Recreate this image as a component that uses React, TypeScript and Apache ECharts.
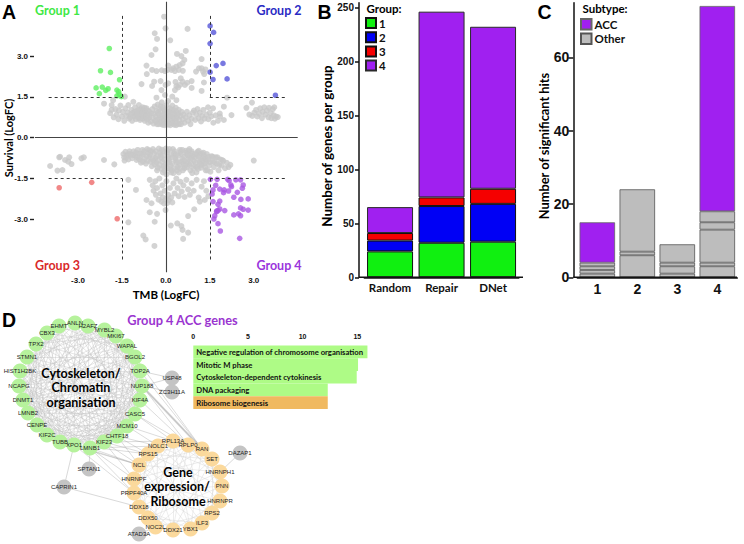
import React, { useEffect, useRef } from "react";
import * as echarts from "echarts";

const ARIAL = '"Liberation Sans", Arial, sans-serif';
const LATO = 'Lato, "Open Sans", sans-serif';

// Panel A
const abTicks = [-3, -1.5, 0, 1.5, 3];
const group1 = [[-1.93,3.28],[-2.23,2.46],[-1.89,2.4],[-1.58,2.13],[-2.38,1.83],[-2.17,1.86],[-2.05,1.74],[-1.97,1.8],[-1.67,1.75],[-2.27,1.62],[-1.61,1.69],[-1.67,1.54],[-1.59,1.59],[-1.52,1.51]];
const group2 = [[1.51,4.11],[1.63,3.87],[1.51,3.46],[1.72,2.65],[1.95,2.73],[1.51,2.41],[1.61,2.14],[2.09,2.16],[3.74,1.56]];
const group3 = [[-3.64,-1.84],[-2.53,-1.64],[-1.66,-2.98]];
const group4 = [[1.52,-1.53],[1.75,-1.53],[2.11,-1.53],[2.16,-1.58],[2.39,-1.55],[2.55,-1.55],[1.7,-1.75],[1.61,-1.92],[1.84,-1.89],[1.99,-1.92],[2.14,-1.96],[2.24,-1.8],[2.22,-1.74],[1.97,-2.02],[1.58,-2.07],[2.64,-1.74],[2.61,-1.86],[2.44,-2.01],[2.32,-2.19],[2.56,-2.27],[2.81,-2.25],[1.61,-2.35],[1.84,-2.33],[1.78,-2.45],[1.84,-2.62],[1.74,-2.69],[1.78,-2.68],[2.01,-2.68],[2.55,-2.58],[2.64,-2.63],[2.81,-2.66],[2.32,-2.84],[2.48,-2.8],[2.55,-2.87],[1.67,-2.87],[1.64,-2.99],[1.78,-3.16],[1.86,-3.43],[2.52,-3.7],[1.73,-2.72]];
const graySparse = [[-0.06,4.45],[-0.38,3.84],[-0.01,4.02],[-0.3,3.63],[0.15,3.58],[0.74,4],[-0.35,3.25],[-0.49,3.04],[0.38,3.08],[0.68,3.19],[0.53,3],[0.63,2.86],[0.57,2.73],[0.47,2.67],[0.36,2.61],[0.25,2.55],[0.08,2.65],[0.06,2.49],[0.19,2.49],[-0.66,2.65],[-0.65,2.34],[-0.47,2.49],[-0.32,2.45],[-0.14,2.48],[-0.03,2.45],[0.31,2.45],[0.44,2.49],[0.58,2.46],[1.22,2.89],[1.03,2.43],[1.13,2.55],[1.22,2.55],[1.35,2.51],[1.27,2.43],[1.31,2.34],[-0.83,1.97],[-0.47,1.9],[-0.4,2.06],[-0.18,2.08],[-0.01,1.94],[0.08,2],[0.33,2.05],[0.36,1.9],[0.51,2.18],[0.57,2.06],[0.48,1.94],[0.42,1.85],[0.65,1.94],[0.73,2.02],[0.88,2.08],[0.88,1.83],[1.22,1.72],[1.3,2.03],[0.31,1.75],[-0.15,1.75],[-0.32,1.47],[-0.03,1.57],[0.22,1.51],[0.36,1.38],[-2.11,1.25],[-1.8,1.38],[-1.85,1.2],[-1.4,1.51],[-1.11,1.32],[2.09,1.47],[1.98,1.14],[1.84,0.89],[2.94,1.29],[2.75,1.1],[2.24,0.83],[1.98,0.65],[1.61,1.08],[1.44,1.12],
[-3.64,-0.72],[-3.95,-1.04],[-3.7,-1.21],[-3.53,-1.19],[-3.61,-0.7],[-3.44,-0.82],[-3.3,-0.72],[-3.22,-0.97],[-3.33,-0.88],[-2.88,-0.76],[-2.8,-0.72],[-2.11,-0.82],[-1.76,-0.98],[-1.41,-0.84],[-1.28,-1.55],[-1.02,-1.92],[-0.66,-2.29],[-0.49,-2.41],[-0.55,-2.74],[-0.38,-3.09],[-0.3,-2.8],[-0.01,-2.66],[-1.28,-3.11],[-0.77,-3.6],[-0.69,-3.74],[-0.39,-3.98],[0.17,-3.23],[0.39,-3.15],[0.53,-3.25],[0.57,-3.39],[0.76,-3.49],[0.59,-3.72],[0.76,-2.88],[0.97,-2.63],[1.16,-2.35],[1.33,-2.29],[3,-0.84],[1.45,-2.15]];
const grayUpperBand = [[-1.9,0.9],[-1.85,1.02],[-1.78,0.75],[-1.72,1.05],[-1.68,0.85],[-1.62,0.68],[-1.6,1],[-1.55,1.18],[-1.5,0.78],[-1.47,0.95],[-1.42,0.62],[-1.38,1.08],[-1.35,0.8],[-1.3,0.92],[-1.28,1.2],[-1.25,0.7],[-1.2,0.85],[-1.18,1.02],[-1.15,0.62],[-1.1,0.78],[-1.08,0.95],[-1.05,1.12],[-1.02,0.68],[-1,0.85],[-0.98,1],[-0.95,0.72],[-0.92,1.2],[-0.9,0.88],[-0.88,0.65],[-0.86,1.05],[-0.84,0.78],[-0.82,0.93],[-0.8,1.12],[-0.78,0.7],[-0.76,0.85],[-0.74,1],[-0.72,0.62],[-0.7,0.78],[-0.68,0.92],[-0.66,1.08],[-0.64,0.68],[-0.62,0.85],[-0.6,0.55],[-0.58,0.98],[-0.56,0.75],[-0.52,0.6],[-0.5,0.9],
[-1.22,0.75],[-1.12,0.9],[-1.06,0.8],[-1.03,0.95],[-0.97,0.88],[-0.93,0.78],[-0.91,1.02],[-0.87,0.72],[-0.83,0.85],[-0.81,1.02],[-0.79,0.92],[-0.75,0.75],[-0.73,1.1],[-0.71,0.88],[-0.67,0.78],[-0.63,1],[-0.61,0.7],[-0.57,0.86],
[-0.46,1.05],[-0.44,0.72],[-0.42,0.52],[-0.4,0.88],[-0.38,1.15],[-0.36,0.62],[-0.34,0.78],[-0.32,0.98],[-0.3,0.5],[-0.28,1.22],[-0.26,0.68],[-0.24,0.85],[-0.22,1.05],[-0.2,0.58],[-0.18,0.95],[-0.16,0.75],[-0.14,1.3],[-0.12,0.48],[-0.1,1.12],[-0.08,0.65],[-0.06,0.88],[-0.04,1.02],[-0.02,0.55],[0,0.78],[0.02,1.2],[0.04,0.62],[0.06,0.95],[0.08,1.35],[0.1,0.5],[0.12,0.82],[0.14,1.08],[0.16,0.68],[0.18,0.9],[0.2,0.55],[0.22,1.18],[0.24,0.75],[0.26,1.02],[0.28,0.48],[0.3,0.85],[0.32,0.62],[0.34,1.1],[0.36,0.95],[0.38,0.72],[0.4,0.52],[0.42,0.88],[0.44,1.02],[0.46,0.65],[0.5,0.8],[0.52,0.5],[0.54,0.95],[0.58,0.68],[0.6,0.85],
[-0.33,0.6],[-0.27,0.92],[-0.21,0.72],[-0.17,1.15],[-0.13,0.58],[-0.09,0.82],[-0.05,0.7],[-0.01,0.98],[0.03,0.72],[0.07,0.58],[0.11,0.92],[0.15,0.78],[0.19,1.02],[0.23,0.62],[0.27,0.9],[0.31,0.72],[0.35,0.55],[0.39,0.82],[-0.24,0.5],[-0.15,0.52],[-0.05,0.46],[0.05,0.48],[0.15,0.46],[0.25,0.52],[0.35,0.46],[0.45,0.5],
[0.64,0.55],[0.68,0.75],[0.72,0.95],[0.76,0.62],[0.8,0.82],[0.84,0.5],[0.88,0.7],[0.92,0.92],[0.96,1],[1,0.65],[1.04,0.85],[1.08,1.05],[1.12,0.72],[1.16,0.92],[1.2,0.6],[1.24,0.8],[1.28,1.02],[1.32,0.7],[1.38,0.85],[1.45,0.68],[1.5,0.92],[1.55,0.78],[1.62,0.55],[1.7,0.82],[1.78,0.62],[1.85,0.78],
[2.85,0.85],[2.95,0.8],[3.02,0.92],[3.08,1.02],[3.12,0.78],[3.18,0.88],[3.22,1.08],[3.28,0.72],[3.3,0.95],[3.36,1.12],[3.4,0.85],[3.45,1],[3.5,0.75],[3.52,1.1],[3.58,0.9],[3.6,0.72],[3.65,1.05],[3.68,0.82],[3.72,0.7],[3.76,0.78],[3.82,0.76],[3.7,1.12]];
const grayLowerBand = [[-1.45,-0.6],[-1.42,-0.72],[-1.38,-0.52],[-1.32,-0.65],[-1.28,-0.8],[-1.24,-0.5],[-1.2,-0.62],[-1.15,-0.75],[-1.1,-0.5],[-1.05,-0.65],[-1,-0.82],[-0.96,-0.45],[-0.92,-0.58],[-0.88,-0.72],[-0.85,-0.92],[-0.8,-0.45],[-0.76,-0.6],[-0.72,-0.78],[-0.68,-0.95],[-0.64,-0.42],[-0.6,-0.55],[-0.56,-0.7],[-0.52,-0.88],[-0.48,-1.05],[-0.44,-0.42],[-0.4,-0.58],[-0.36,-0.75],[-0.32,-0.92],[-0.28,-1.1],[-0.24,-0.4],[-0.2,-0.55],[-0.16,-0.72],[-0.12,-0.88],[-0.08,-1.05],[-0.04,-1.22],[0,-0.4],[0.04,-0.55],[0.08,-0.7],[0.12,-0.85],[0.16,-1.02],[0.2,-1.2],[0.24,-0.42],[0.28,-0.58],[0.32,-0.74],[0.36,-0.9],[0.4,-1.08],[0.44,-1.28],[0.48,-0.45],[0.52,-0.6],[0.56,-0.78],[0.6,-0.95],[0.64,-1.12],[0.68,-0.48],[0.72,-0.62],[0.76,-0.8],[0.8,-1],[0.84,-1.2],[0.88,-0.5],[0.92,-0.68],[0.96,-0.85],[1,-1.05],[1.04,-1.28],[1.08,-0.52],[1.12,-0.7],[1.16,-0.9],[1.2,-1.1],[1.24,-0.58],[1.28,-0.75],[1.32,-0.95],[1.36,-1.2],[1.4,-0.6],[1.44,-0.8],[1.48,-1.02],[1.52,-1.25],[1.56,-0.68],[1.6,-0.88],[1.64,-1.08],[1.7,-0.72],[1.74,-0.95],[1.8,-1.2],[1.85,-0.8],[1.9,-1.02],[1.96,-0.85],[2.02,-1.12],[2.08,-0.92],[2.14,-1.08],[2.2,-1],
[-0.5,-0.5],[-0.42,-0.85],[-0.34,-0.5],[-0.26,-0.82],[-0.22,-1],[-0.18,-0.64],[-0.14,-1.15],[-0.1,-0.5],[-0.06,-0.8],[-0.02,-1],[0.02,-1.35],[0.06,-0.48],[0.1,-0.78],[0.14,-1.15],[0.18,-0.62],[0.22,-0.95],[0.26,-1.3],[0.3,-0.5],[0.34,-0.82],[0.38,-1.2],[0.42,-0.66],[0.46,-1],[0.5,-0.52],[0.54,-0.88],[0.58,-1.2],[0.62,-0.7],[0.66,-1],[0.7,-0.55],[0.74,-0.9],[0.78,-0.48],[0.82,-0.72],[0.86,-0.95],[0.9,-0.58],[0.94,-1.12],[0.98,-0.72],[1.02,-0.92],[1.06,-0.62],[1.1,-1.15],[1.14,-0.8],[1.18,-0.6],[1.22,-1],[1.26,-0.85],[1.3,-0.66],[1.34,-1.08],[1.38,-0.88],
[-1.35,-0.72],[-1.26,-0.6],[-1.12,-0.64],[-1.02,-0.55],[-0.98,-0.72],[-0.9,-0.8],[-0.84,-0.6],[-0.78,-0.88],[-0.74,-0.5],[-0.66,-0.68],[-0.62,-0.85],[-0.58,-0.46],[-0.54,-0.62],[-0.46,-0.78],[-0.38,-0.98],[-0.3,-0.68],[-0.3,-1.2],[-0.14,-0.44],[-0.1,-1.28],[-0.08,-0.65],[0.04,-1.12],[0.08,-0.92],[0.12,-0.42],[0.18,-1.28],[0.24,-0.72],[0.3,-1.12],[0.36,-0.62],[0.42,-0.9],[0.5,-1.12],[0.56,-0.45],[0.64,-0.86],[0.72,-1.08],[0.76,-0.62],[0.8,-0.42],[0.86,-0.76],[0.9,-1.3],[1.02,-0.6],[1.06,-1.08],[1.12,-0.48],[1.18,-0.98],[1.28,-0.55],[1.34,-0.78],[1.42,-1.2],[1.46,-0.7],[1.5,-0.9],[1.6,-0.7],[1.66,-0.9],[1.76,-0.72],[1.82,-1],[1.92,-0.82],
[-0.55,-1.55],[-0.45,-1.75],[-0.42,-1.95],[-0.36,-1.6],[-0.34,-2.1],[-0.3,-1.85],[-0.25,-2.28],[-0.22,-1.5],[-0.18,-2.05],[-0.15,-2.35],[-0.12,-1.75],[-0.1,-2.2],[-0.06,-2.42],[-0.04,-1.95],[0,-2.25],[0.02,-1.6],[0.05,-2.4],[0.08,-2.1],[0.1,-2.3],[0.14,-1.85],[0.18,-2.2],[0.22,-2.38],[0.26,-1.68],[0.3,-2.05],[0.36,-1.5],[0.4,-1.85],[0.44,-2.15],[0.5,-1.62],[0.54,-1.98],[0.6,-1.75],[0.64,-2.18],[0.7,-1.55],[0.76,-1.9],[0.82,-2.1],[0.88,-1.68],[0.95,-1.95],[1.05,-1.55],[1.12,-2.2],[1.22,-1.8],[1.3,-1.6],[1.38,-1.95]];

// Panel B
const methods = ["Random", "Repair", "DNet"];
const genes1 = [24, 32, 33];
const genes2 = [10, 34, 35];
const genes3 = [7, 8, 14];
const genes4 = [24, 172, 150];
const bTicks = [0, 50, 100, 150, 200, 250];

// Panel C
const hitGroups = ["1", "2", "3", "4"];
const otherA = [1, 6, 1, 3];
const otherB = [1, 1, 2, 1];
const otherC = [1, 17, 1, 9];
const otherD = [1, null, 5, 2];
const otherE = [null, null, null, 3];
const accHits = [11, null, null, 56];
const cTicks = [0, 20, 40, 60];

// Panel D: enrichment
const terms = ["Negative regulation of chromosome organisation", "Mitotic M phase", "Cytoskeleton-dependent cytokinesis", "DNA packaging", "Ribosome biogenesis"];
const termScores = [15.93, 15.07, 14.95, 12.3, 12.3];
const termColors = ["#aefb86", "#aefb86", "#aefb86", "#aefb86", "#f0b960"];
const dTicks = [0, 5, 10, 15];

// Panel D: network [gene, x, y]
const chromatinGenes: [string, number, number][] = [["ANLN",75,323],["H2AFZ",88,326],["MYBL2",104.5,330],["MKI67",116,336],["WAPAL",127,346],["BGOL2",135,357],["TOP2A",140,371],["NUP188",142,386],["KIF4A",140,400],["CASC5",135,414],["MCM10",127,426],["CHTF18",117,436],["KIF23",104,442],["LMNB1",90,448],["XPO1",74,445],["TUBB",60,442],["KIF2C",47,435],["CENPE",37,425],["LMNB2",28,413],["DNMT1",23,400],["NCAPG",19,386],["HIST1H2BK",20,371],["STMN1",27,357],["TPX2",36,344],["CBX3",47,333],["EHMT",59,326]];
const riboGenes: [string, number, number][] = [["RPL13A",173,441],["RPLP0",188,445],["RAN",202,449],["SET",212,459],["HNRNPH1",220,472],["PNN",222,486],["HNRNPR",220,501],["RPS2",212,513],["ILF3",202,523],["YBX1",190.5,529],["DDX21",173,530],["NOC2L",155.5,527],["DDX50",148,518],["DDX18",139,507],["PRPF40A",134,493],["HNRNPF",134,479],["NCL",139,465],["RPS15",148,454],["NOLC1",158,446]];
const otherGenes: [string, number, number][] = [["USP48",172,378],["ZC3H11A",172,392],["SPTAN1",89,469],["CAPRIN1",64,487],["ATAD3A",139,534],["DAZAP1",240,453]];
const chromatinEdges = [[0,7],[0,9],[0,12],[0,14],[0,17],[0,20],[0,13],[0,5],[1,8],[1,10],[1,15],[1,18],[1,21],[1,13],[1,6],[2,9],[2,11],[2,14],[2,17],[2,19],[2,22],[2,7],[3,8],[3,12],[3,15],[3,18],[3,20],[3,23],[3,10],[4,9],[4,13],[4,16],[4,19],[4,21],[4,24],[4,11],[5,10],[5,14],[5,17],[5,20],[5,22],[5,25],[5,12],[6,11],[6,15],[6,18],[6,21],[6,23],[6,13],[7,12],[7,16],[7,19],[7,22],[7,24],[7,14],[8,13],[8,17],[8,20],[8,23],[8,25],[8,15],[9,14],[9,18],[9,21],[9,24],[9,16],[10,15],[10,19],[10,22],[10,25],[10,17],[11,16],[11,20],[11,23],[11,18],[12,17],[12,21],[12,24],[12,19],[13,18],[13,22],[13,25],[13,20],[14,19],[14,23],[14,21],[15,20],[15,24],[15,22],[16,21],[16,25],[16,23],[17,22],[17,24],[18,23],[18,25],[19,24],[20,25],[0,25],[1,24],[2,23],[3,22],[4,20],[5,19],[6,19],[7,18],[8,16],[9,15],[10,14],[11,13],[21,25],[22,24],[6,9],[7,10],[4,8],[3,6],[0,10],[0,16],[0,22],[1,11],[1,16],[1,19],[2,12],[2,16],[2,20],[3,11],[3,17],[3,19],[4,12],[4,15],[4,18],[5,11],[5,16],[5,18],[6,12],[6,16],[6,20],[7,13],[7,17],[7,21],[8,14],[8,18],[8,21],[9,13],[9,19],[9,22],[10,16],[10,20],[10,23],[11,15],[11,21],[11,24],[12,20],[12,22],[12,25],[13,19],[13,23],[14,20],[14,24],[15,21],[15,25],[16,22],[17,23],[17,25],[18,24]];
const riboEdges = [[0,4],[0,7],[0,9],[0,12],[0,14],[0,16],[1,5],[1,8],[1,10],[1,13],[1,15],[1,17],[2,6],[2,9],[2,11],[2,14],[2,16],[3,7],[3,10],[3,12],[3,15],[3,17],[4,8],[4,11],[4,13],[4,16],[4,18],[5,9],[5,12],[5,14],[5,17],[6,10],[6,13],[6,15],[6,18],[7,11],[7,14],[7,16],[8,12],[8,15],[8,17],[9,13],[9,16],[9,18],[10,14],[10,17],[11,15],[11,18],[12,16],[13,17],[14,18],[0,3],[1,4],[2,5],[5,8],[6,9],[10,13],[15,18],[0,10],[1,11]];
const crossEdges = [[6,2],[7,2],[7,1],[8,1],[9,0],[9,1],[10,18],[10,0],[11,17],[11,16],[12,0],[12,17],[12,16],[13,18],[13,16],[13,15],[14,16],[14,17],[14,14],[15,16],[13,14],[12,15],[11,18],[5,2]];
const heavyCrossEdges = [[7, 2]];
const sideEdges = [["USP48","TOP2A"],["ZC3H11A","NUP188"],["USP48","NUP188"],["SPTAN1","LMNB1"],["CAPRIN1","XPO1"],["CAPRIN1","DDX18"],["ATAD3A","NOC2L"],["DAZAP1","HNRNPH1"]];

const axisText = (size: number) => ({ fontFamily: ARIAL, fontWeight: "bold", fontSize: size, color: "#111" });
const title = (text: string, x: number, y: number, font: string, fill = "#000", rotation = 0) => ({
  type: "text", x, y, rotation, z: 20, silent: true,
  style: { text, font, fill, textAlign: "center", textVerticalAlign: "middle" },
});
const hline = (x1: number, x2: number, y: number) => ({
  type: "line", z: 5, silent: true, shape: { x1, y1: y, x2, y2: y }, style: { stroke: "#111", lineWidth: 1.5 },
});
const dashed = (a: number[], b: number[]) => [
  { coord: a, lineStyle: { color: "#333", width: 1, type: [3, 3] } },
  { coord: b },
];
const solid = (a: number[], b: number[]) => [
  { coord: a, lineStyle: { color: "#444", width: 1.1, type: "solid" } },
  { coord: b },
];
const scatter = (name: string, data: number[][], color: string, z: number, size: number, extra = {}) => ({
  type: "scatter", name, data, xAxisIndex: 0, yAxisIndex: 0, symbolSize: size, z, silent: true,
  itemStyle: { color }, ...extra,
});
const bar = (name: string, data: (number | null)[], idx: number, stack: string, color: string, border: string, width: number, borderWidth = 1) => ({
  type: "bar", name, data, stack, xAxisIndex: idx, yAxisIndex: idx, barWidth: width, silent: true,
  itemStyle: { color, borderColor: border, borderWidth },
});
const hiddenGrid = { splitLine: { show: false } };

function buildOption() {
  const allNodes = [...chromatinGenes, ...riboGenes, ...otherGenes];
  const nodeStyle = (name: string) =>
    chromatinGenes.some((g) => g[0] === name) ? { color: "#b6f29c", size: 15 }
    : riboGenes.some((g) => g[0] === name) ? { color: "#fbd99c", size: 15 }
    : { color: "#c4c4c4", size: 15 };
  const links: any[] = [
    ...chromatinEdges.map(([a, b]) => ({ source: chromatinGenes[a][0], target: chromatinGenes[b][0], lineStyle: { color: "#c0c0c0", width: 0.8 } })),
    ...riboEdges.map(([a, b]) => ({ source: riboGenes[a][0], target: riboGenes[b][0], lineStyle: { color: "#d2d2d2", width: 0.8 } })),
    ...crossEdges.map(([a, b]) => ({ source: chromatinGenes[a][0], target: riboGenes[b][0], lineStyle: { color: "#9a9a9a", width: 0.7 } })),
    ...heavyCrossEdges.map(([a, b]) => ({ source: chromatinGenes[a][0], target: riboGenes[b][0], lineStyle: { color: "#a8a8a8", width: 2 } })),
    ...sideEdges.map(([a, b]) => ({ source: a, target: b, lineStyle: { color: "#a0a0a0", width: 0.8 } })),
  ];

  return {
    animation: false,
    backgroundColor: "#fff",
    grid: [
      { left: 34, top: 1.7, width: 263.7, height: 272 },
      { left: 364.3, top: 2.7, width: 154.5, height: 274.6 },
      { left: 577.3, top: 2.7, width: 160, height: 274.6 },
      { left: 193.3, top: 345.5, width: 174.9, height: 63.5 },
      { left: 0, top: 0, width: 744, height: 544 },
    ],
    xAxis: [
      { type: "value", gridIndex: 0, min: -4.5, max: 4.5, position: "bottom", ...hiddenGrid, axisLine: { show: false, onZero: false }, axisTick: { show: false },
        axisLabel: { ...axisText(8), margin: 3, customValues: abTicks, formatter: (v: number) => v.toFixed(1) } },
      { type: "category", gridIndex: 1, data: methods, axisLine: { lineStyle: { color: "#111", width: 1.5 } }, axisTick: { show: false },
        axisLabel: { fontFamily: LATO, fontWeight: "bold", fontSize: 11.5, color: "#111", margin: 4, interval: 0 } },
      { type: "category", gridIndex: 2, data: hitGroups, axisLine: { lineStyle: { color: "#111", width: 1.5 } }, axisTick: { alignWithLabel: true, length: 4, lineStyle: { color: "#111", width: 1.5 } },
        axisLabel: { ...axisText(14), margin: 5, interval: 0 } },
      { type: "value", gridIndex: 3, position: "top", min: 0, max: 16, ...hiddenGrid, axisLine: { lineStyle: { color: "#222", width: 1 } }, axisTick: { length: 2, customValues: dTicks, lineStyle: { color: "#222" } },
        axisLabel: { ...axisText(7), margin: 6, customValues: dTicks } },
      { type: "value", gridIndex: 4, min: 0, max: 744, show: false, ...hiddenGrid },
    ],
    yAxis: [
      { type: "value", gridIndex: 0, min: -5, max: 5, ...hiddenGrid, axisLine: { show: false, onZero: false }, axisTick: { show: true, length: 4, customValues: abTicks, lineStyle: { color: "#222", width: 1.4 } },
        axisLabel: { ...axisText(8), margin: 6, customValues: abTicks, formatter: (v: number) => v.toFixed(1) } },
      { type: "value", gridIndex: 1, min: 0, max: 254.3, offset: 5.3, ...hiddenGrid, axisLine: { show: true, lineStyle: { color: "#111", width: 1.5 } }, axisTick: { show: true, length: 4, customValues: bTicks, lineStyle: { color: "#111", width: 1.5 } },
        axisLabel: { ...axisText(10), margin: 5, customValues: bTicks } },
      { type: "value", gridIndex: 2, min: 0, max: 74.9, offset: 4, ...hiddenGrid, axisLine: { show: true, lineStyle: { color: "#111", width: 1.5 } }, axisTick: { show: true, length: 5, customValues: cTicks, lineStyle: { color: "#111", width: 1.5 } },
        axisLabel: { ...axisText(14), margin: 4, customValues: cTicks } },
      { type: "category", gridIndex: 3, data: terms, inverse: true, show: false },
      { type: "value", gridIndex: 4, min: 0, max: 544, inverse: true, show: false, ...hiddenGrid },
    ],
    legend: [
      { left: 365, top: 17, padding: 0, orient: "vertical", data: ["1", "2", "3", "4"], icon: "rect", itemWidth: 10, itemHeight: 10, itemGap: 2.2, selectedMode: false,
        textStyle: { fontFamily: LATO, fontWeight: "bold", fontSize: 11.5, color: "#111", padding: [0, 0, 0, -2] } },
      { left: 580, top: 18, padding: 0, orient: "vertical", data: ["ACC", "Other"], icon: "rect", itemWidth: 10.5, itemHeight: 10.5, itemGap: 2, selectedMode: false,
        textStyle: { fontFamily: LATO, fontWeight: "bold", fontSize: 11.5, color: "#111", padding: [0, 0, 0, -2] } },
    ],
    series: [
      scatter("Other genes", [...graySparse, ...grayUpperBand, ...grayLowerBand], "#c8c8c8", 2, 6),
      scatter("Group 1", group1, "#5fef62", 3, 5.6),
      scatter("Group 2", group2, "#5656d8", 3, 5.6),
      scatter("Group 3", group3, "#ee6a6a", 3, 5.6),
      scatter("Group 4", group4, "#a958e2", 3, 5.6, {
        markLine: {
          silent: true, symbol: "none", label: { show: false }, z: 6, animation: false,
          data: [
            solid([-4.47, 0], [4.5, 0]), solid([0, 5], [0, -4.95]),
            dashed([-4.0, 1.5], [-1.5, 1.5]), dashed([1.5, 1.5], [4.1, 1.5]),
            dashed([-4.0, -1.5], [-1.5, -1.5]), dashed([1.5, -1.5], [4.1, -1.5]),
            dashed([-1.5, 1.5], [-1.5, 4.5]), dashed([1.5, 1.5], [1.5, 4.5]),
            dashed([-1.5, -1.5], [-1.5, -4.55]), dashed([1.5, -1.5], [1.5, -4.55]),
          ],
        },
      }),
      bar("1", genes1, 1, "g", "#10f010", "#111", 46),
      bar("2", genes2, 1, "g", "#0000f5", "#111", 46),
      bar("3", genes3, 1, "g", "#f50000", "#111", 46),
      bar("4", genes4, 1, "g", "#a020f0", "#2a2a2a", 46),
      bar("Other", otherA, 2, "h", "#bdbdbd", "#555", 35.5, 0.8),
      bar("Other", otherB, 2, "h", "#bdbdbd", "#555", 35.5, 0.8),
      bar("Other", otherC, 2, "h", "#bdbdbd", "#555", 35.5, 0.8),
      bar("Other", otherD, 2, "h", "#bdbdbd", "#555", 35.5, 0.8),
      bar("Other", otherE, 2, "h", "#bdbdbd", "#555", 35.5, 0.8),
      bar("ACC", accHits, 2, "h", "#a020f0", "#666", 35.5, 0.8),
      {
        type: "bar", name: "Enrichment", xAxisIndex: 3, yAxisIndex: 3, barCategoryGap: 0, silent: true,
        data: termScores.map((value, i) => ({ value, itemStyle: { color: termColors[i] } })),
        label: { show: true, position: "insideLeft", distance: 3, formatter: "{b}", fontFamily: LATO, fontWeight: "bold", fontSize: 7.7, color: "#111" },
      },
      {
        type: "graph", coordinateSystem: "cartesian2d", xAxisIndex: 4, yAxisIndex: 4, silent: true, z: 2,
        symbol: "circle",
        data: allNodes.map(([name, x, y]) => {
          const s = nodeStyle(name);
          return { name, value: [x, y], symbolSize: s.size, itemStyle: { color: s.color } };
        }),
        links,
        label: { show: true, position: "inside", fontFamily: ARIAL, fontSize: 6, color: "#222" },
        edgeSymbol: ["none", "none"],
      },
    ],
    graphic: [
      hline(359, 523, 277.3),
      hline(573.3, 737, 277.3),
      title("A", 9, 11.5, `bold 19.5px ${ARIAL}`),
      title("B", 324.5, 11.5, `bold 19.5px ${ARIAL}`),
      title("C", 544.5, 11.5, `bold 19.5px ${ARIAL}`),
      title("D", 9, 319.5, `bold 19.5px ${ARIAL}`),
      title("Group 1", 57.5, 10, `bold 12.5px ${LATO}`, "#3fe845"),
      title("Group 2", 279, 10, `bold 12.5px ${LATO}`, "#2a2ac4"),
      title("Group 3", 57.5, 265, `bold 12.5px ${LATO}`, "#d92a2a"),
      title("Group 4", 279, 265, `bold 12.5px ${LATO}`, "#9a35dc"),
      title("TMB (LogFC)", 166, 294, `bold 11.5px ${LATO}`),
      title("Survival (LogFC)", 8, 138, `bold 11px ${LATO}`, "#000", Math.PI / 2),
      title("Number of genes per group", 327, 146, `bold 13.3px ${LATO}`, "#000", Math.PI / 2),
      title("Number of significant hits", 544, 146, `bold 12.8px ${LATO}`, "#000", Math.PI / 2),
      title("Group:", 384, 8.5, `bold 11.5px ${LATO}`),
      title("Subtype:", 605, 8.5, `bold 11.5px ${LATO}`),
      title("Group 4 ACC genes", 182.5, 320, `bold 12.8px ${LATO}`, "#9a35d0"),
      title("Cytoskeleton/", 81, 373, `bold 12.5px ${LATO}`),
      title("Chromatin", 81, 387.5, `bold 12.5px ${LATO}`),
      title("organisation", 81, 402, `bold 12.5px ${LATO}`),
      title("Gene", 178, 472, `bold 12.5px ${LATO}`),
      title("expression/", 177, 486, `bold 12.5px ${LATO}`),
      title("Ribosome", 178, 501, `bold 12.5px ${LATO}`),
    ],
  };
}

export default function App() {
  const ref = useRef<HTMLDivElement>(null);
  useEffect(() => {
    if (!ref.current) return;
    const chart = echarts.init(ref.current, undefined, { renderer: "svg" });
    chart.setOption(buildOption() as any);
    return () => chart.dispose();
  }, []);
  return <div ref={ref} style={{ position: "absolute", left: 0, top: 0, width: 744, height: 544 }} />;
}
